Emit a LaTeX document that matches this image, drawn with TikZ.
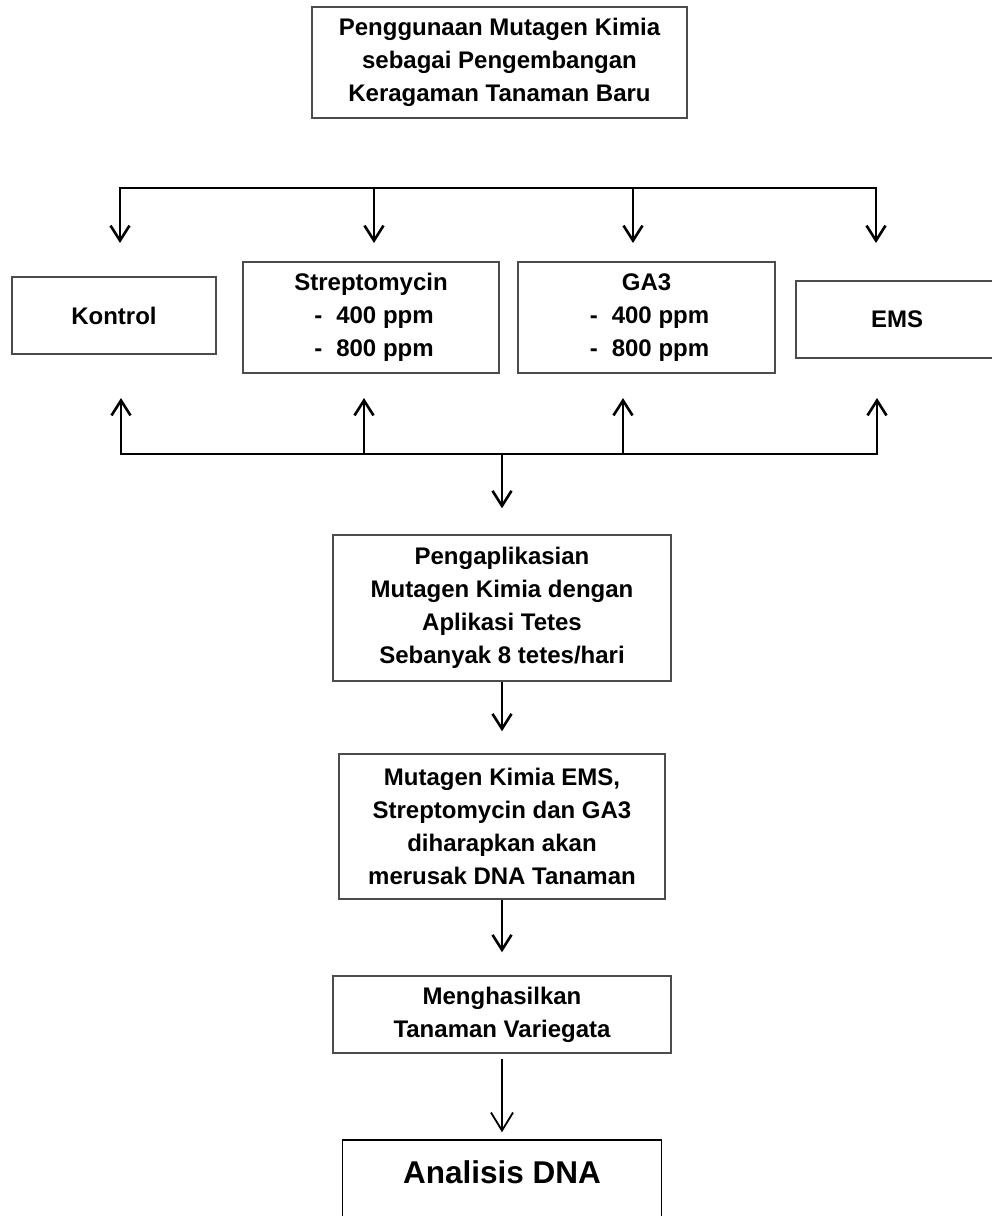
\documentclass[tikz,border=0pt]{standalone}
\usepackage{fontspec}
\setmainfont{Liberation Sans}
\usetikzlibrary{arrows.meta}
\begin{document}
\begin{tikzpicture}[x=1bp,y=-1bp,
  box/.style={draw=black!70, line width=1.5bp, fill=white, inner sep=0pt, align=center,
    font=\bfseries\fontsize{24bp}{33bp}\selectfont},
  busline/.style={line width=2.6bp, line cap=rect},
  arr/.style={line width=2.6bp, -{Straight Barb[length=15bp,width=19bp,line width=2.6bp]}},
  arrthin/.style={line width=1.8bp, -{Straight Barb[length=18bp,width=22bp,line width=1.8bp]}}
]
\useasboundingbox (0,0) rectangle (992,1216);
\fill[white] (0,0) rectangle (992,1216);

% nodes
\node[box, minimum width=375bp, minimum height=111bp] (top) at (499.5,62.5)
  {Penggunaan Mutagen Kimia\\sebagai Pengembangan\\Keragaman Tanaman Baru};
\node[box, minimum width=204bp, minimum height=77bp] (kon) at (114,315.5) {Kontrol};
\node[box, minimum width=256bp, minimum height=111bp] (str) at (371,317.5)
  {Streptomycin\\\hspace{6bp}-\hspace{14bp}400 ppm\\\hspace{6bp}-\hspace{14bp}800 ppm};
\node[box, minimum width=257bp, minimum height=111bp] (ga) at (646.5,317.5)
  {GA3\\\hspace{6bp}-\hspace{14bp}400 ppm\\\hspace{6bp}-\hspace{14bp}800 ppm};
\node[box, minimum width=202bp, minimum height=77bp] (ems) at (897,319.5) {EMS};
\node[box, minimum width=338bp, minimum height=146bp] (peng) at (502,608)
  {Pengaplikasian\\Mutagen Kimia dengan\\Aplikasi Tetes\\Sebanyak 8 tetes/hari};
\node[box, minimum width=326bp, minimum height=145bp] (mut) at (502,826.5)
  {Mutagen Kimia EMS,\\Streptomycin dan GA3\\diharapkan akan\\merusak DNA Tanaman};
\node[box, minimum width=338bp, minimum height=77bp] (meng) at (502,1014.5)
  {Menghasilkan\\Tanaman Variegata};
\node[box, draw=black, minimum width=319bp, minimum height=100bp] (ana) at (502,1190) {};
\node[font=\bfseries\fontsize{31.5bp}{36bp}\selectfont, inner sep=0pt] (anat) at (502,1172) {Analisis DNA};

% top bus
\coordinate (ta) at (120,188);
\coordinate (tb) at (374,188);
\coordinate (tc) at (633,188);
\coordinate (td) at (876,188);
\coordinate (da) at (120,243);
\coordinate (db) at (374,243);
\coordinate (dc) at (633,243);
\coordinate (dd) at (876,243);
\draw[busline] (ta) -- (td);
\draw[arr] (ta) -- (da);
\draw[arr] (tb) -- (db);
\draw[arr] (tc) -- (dc);
\draw[arr] (td) -- (dd);

% bottom bus
\coordinate (ba) at (121,454);
\coordinate (bb) at (364,454);
\coordinate (bm) at (502,454);
\coordinate (bc) at (623,454);
\coordinate (bd) at (877,454);
\coordinate (ua) at (121,398);
\coordinate (ub) at (364,398);
\coordinate (uc) at (623,398);
\coordinate (ud) at (877,398);
\draw[busline] (ba) -- (bd);
\draw[arr] (ba) -- (ua);
\draw[arr] (bb) -- (ub);
\draw[arr] (bc) -- (uc);
\draw[arr] (bd) -- (ud);
\draw[arr] (bm) -- ([yshift=26bp]peng.north);

% vertical chain
\draw[arr] (peng.south) -- ([yshift=22bp]mut.north);
\draw[arr] (mut.south) -- ([yshift=23bp]meng.north);
\draw[arrthin] ([yshift=-5bp]meng.south) -- ([yshift=7bp]ana.north);
\end{tikzpicture}
\end{document}
